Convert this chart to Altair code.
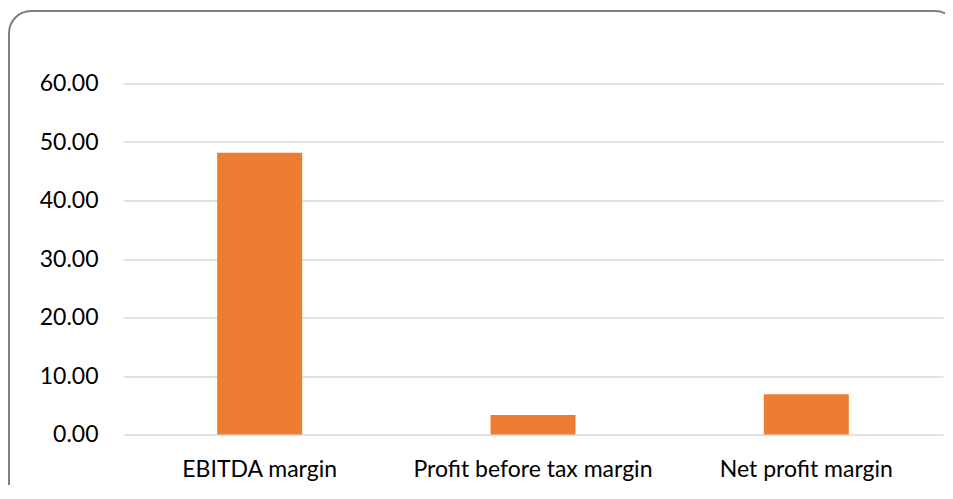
import altair as alt
import pandas as pd

categories = ["EBITDA margin", "Profit before tax margin", "Net profit margin"]
values = [48.17, 3.33, 6.87]
y_ticks = [0, 10, 20, 30, 40, 50, 60]

df = pd.DataFrame({"category": categories, "value": values})

FONT = "Lato"

bars = alt.Chart(df).mark_bar(color="#ED7D31").encode(
    x=alt.X(
        "category:N",
        sort=categories,
        scale=alt.Scale(paddingInner=0.689, paddingOuter=0.3445),
        axis=alt.Axis(
            title=None, labelAngle=0, domain=False, ticks=False, tickSize=0,
            labelPadding=24, labelFontSize=23, labelFont=FONT, labelColor="#000000",
            labelLimit=0, grid=False,
        ),
    ),
    y=alt.Y(
        "value:Q",
        scale=alt.Scale(domain=[0, 60], nice=False),
        axis=alt.Axis(
            title=None, values=y_ticks, format=".2f", domain=False, ticks=False,
            tickSize=0, labelPadding=25, labelFontSize=23, labelFont=FONT,
            labelColor="#000000", gridColor="#D9D9D9", gridWidth=1.5,
        ),
    ),
)

border = alt.Chart(pd.DataFrame({"k": [0]})).mark_rect(
    fill=None, stroke="#7F7F7F", strokeWidth=2, cornerRadius=22, clip=False
).encode(
    x=alt.value(-114), x2=alt.value(834), y=alt.value(-72.5), y2=alt.value(460)
)

chart = alt.layer(bars, border).properties(
    width=820,
    height=351,
    autosize=alt.AutoSizeParams(type="none"),
    padding={"left": 115, "top": 75.5, "right": 2, "bottom": 50},
).configure_view(stroke=None)

chart.save("out.html", embed_options={"renderer": "svg", "actions": False})
